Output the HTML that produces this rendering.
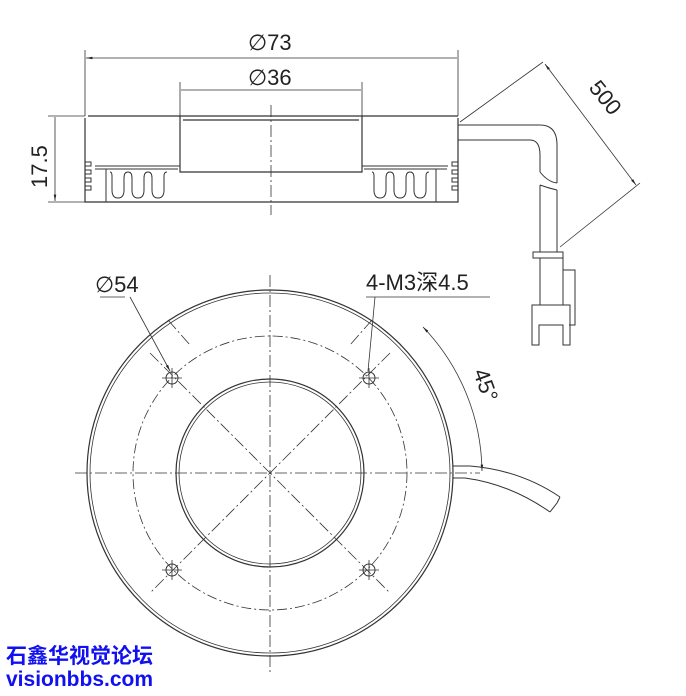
<!DOCTYPE html>
<html><head><meta charset="utf-8"><style>
html,body{margin:0;padding:0;background:#fff;width:686px;height:696px;overflow:hidden}
svg{position:absolute;left:0;top:0}
.wm{position:absolute;left:6px;color:#1010f0;font-weight:bold;font-family:"Liberation Sans","Noto Sans CJK SC",sans-serif}
</style></head><body>
<svg width="686" height="696" viewBox="0 0 686 696" font-family="Liberation Sans, DejaVu Sans, sans-serif" fill="none" stroke="#333" stroke-width="1.2">
<defs><marker id="a" viewBox="0 0 10 10" refX="10" refY="5" markerWidth="8" markerHeight="8" orient="auto-start-reverse"><path d="M0,3 L10,5 L0,7z" fill="#222" stroke="none"/></marker>
<path id="fin" d="M0,172 q2,0 2,4 v14 q0,8 6,8 q6,0 6,-8 v-12 q0,-6 4,-6 q4,0 4,6 v12 q0,8 6,8 q6,0 6,-8 v-12 q0,-6 4,-6 q4,0 4,6 v12 q0,8 6,8 q6,0 6,-8 v-14 q0,-4 3,-4" stroke-width="1"/></defs>
<!-- top view body -->
<path d="M88,116 L458,116 M85,118 L85,202 L458,202 L458,118"/>
<path d="M180,116 L180,172 L362,172 L362,116 M183,120 L359,120"/>
<path d="M95,166 L180,166 M362,166 L448,166 M95,169 L178,169 M364,169 L447,169 M106,169 L106,202 M436,169 L436,202" stroke-width="1"/>
<path d="M85,162 h6 v4 h-6 M85,170 h6 v4 h-6 M85,178 h6 v4 h-6 M85,186 h6 v4 h-6 M458,162 h-6 v4 h6 M458,170 h-6 v4 h6 M458,178 h-6 v4 h6 M458,186 h-6 v4 h6" stroke-width="1"/>
<use href="#fin" x="110"/><use href="#fin" x="372"/>
<path d="M271,105 L271,215" stroke-dasharray="12 3 2 3" stroke-width="0.8"/>
<!-- dims -->
<path d="M85,50 L85,116 M458,50 L458,116 M180,82 L180,116 M362,82 L362,116 M48,116 L85,116 M48,202 L85,202" stroke-width="0.8"/>
<path d="M86,58 L457,58 M181,90 L361,90 M55,117 L55,201" marker-start="url(#a)" marker-end="url(#a)" stroke-width="0.8"/>
<g fill="#222" stroke="none" font-size="22">
<text x="248" y="50">∅73</text><text x="248" y="85">∅36</text>
<text transform="translate(47,188) rotate(-90)">17.5</text>
<text transform="translate(588,88) rotate(51)">500</text>
<text transform="translate(473,372) rotate(70)">45°</text>
<text x="95" y="292">∅54</text>
<text x="366" y="290" font-family="Liberation Sans, Noto Sans CJK SC, sans-serif">4-M3深4.5</text>
</g>
<!-- cable -->
<path d="M458,125 L540,125 Q557,125 557,145 L557,183 M458,140 L530,140 Q540,140 540,155 L540,172 M540,185 L540,252 M557,190 L557,252" stroke-width="1"/>
<path d="M540,172 q8,10 17,11 M540,185 q8,3 17,5" stroke-width="1"/>
<path d="M533,252 h30 v6 h-30z M540,258 v47 M563,258 v47 M532,305 h38 v40 h-7 v-20 h-24 v20 h-7z M563,270 h12 v55 h-6" stroke-width="1"/>
<path d="M460,122 L543,62 M560,247 L640,183" stroke-width="0.8"/>
<path d="M545,64 L636,185" marker-start="url(#a)" marker-end="url(#a)" stroke-width="0.8"/>
<!-- bottom view -->
<circle cx="270" cy="473" r="183"/><circle cx="270" cy="473" r="180" stroke-width="0.8"/>
<circle cx="270" cy="473" r="94"/><circle cx="270" cy="473" r="91" stroke-width="0.8"/>
<circle cx="270" cy="473" r="137" stroke-dasharray="10 3 2 3" stroke-width="0.8"/>
<path d="M270,275 L270,672 M75,473 L480,473 M150,353 L390,593 M390,353 L150,593 M168,320 L190,345 M372,320 L350,345" stroke-dasharray="12 3 2 3" stroke-width="0.8"/>
<g stroke-width="1">
<circle cx="172" cy="378" r="6"/><circle cx="369" cy="378" r="6"/><circle cx="172" cy="570" r="6"/><circle cx="369" cy="570" r="6"/>
<path d="M162,378h20M172,368v20M359,378h20M369,368v20M162,570h20M172,560v20M359,570h20M369,560v20" stroke-width="0.8"/>
</g>
<path d="M366,297 L490,297 M125,297 L100,297" stroke-width="0.8"/>
<path d="M375,297 L368,371 M130,297 L170,371" marker-end="url(#a)" stroke-width="0.8"/>
<path d="M423,327 A212,212 0 0 1 482,471" marker-start="url(#a)" marker-end="url(#a)" stroke-width="0.8"/>
<path d="M453,466 L470,466 Q520,470 560,497 M453,478 L465,478 Q510,484 550,512 M560,497 l-3,6 l-7,9" stroke-width="1"/>
</svg>
<div class="wm" style="top:640px;font-size:21px">石鑫华视觉论坛</div>
<div class="wm" style="top:668px;font-size:21px">visionbbs.com</div>
</body></html>
